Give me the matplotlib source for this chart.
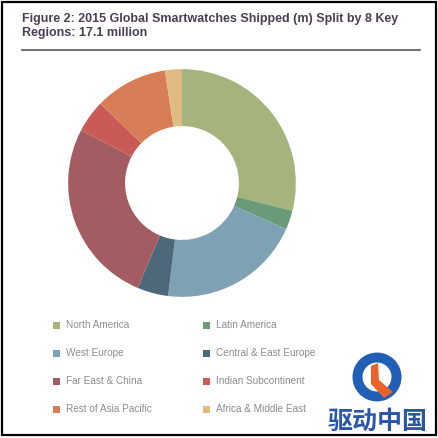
import matplotlib
matplotlib.use("Agg")
import matplotlib.pyplot as plt
from matplotlib.patches import Rectangle, Wedge, Polygon
from matplotlib.lines import Line2D

W, H = 439, 438

regions = ["North America", "Latin America", "West Europe", "Central & East Europe",
           "Far East & China", "Indian Subcontinent", "Rest of Asia Pacific", "Africa & Middle East"]
shares = [28.9, 2.7, 20.3, 4.4, 26.3, 4.6, 10.3, 2.4]
colors = ["#a5b47c", "#6a9a78", "#7ea2b4", "#4d6878", "#a35c62", "#c95a55", "#d87e57", "#e0bb82"]

title = "Figure 2: 2015 Global Smartwatches Shipped (m) Split by 8 Key\nRegions: 17.1 million"

fig = plt.figure(figsize=(W / 100, H / 100), dpi=100)
fig.patch.set_facecolor("white")

def fx(x):
    return x / W

def fy(y):
    return 1 - y / H

# outer frame
fig.add_artist(Rectangle((fx(2), fy(435)), fx(434), 433 / H, transform=fig.transFigure,
                         fill=False, edgecolor="black", linewidth=1.6))

# title
fig.text(fx(22), fy(13), title, ha="left", va="top", fontsize=9.0, fontweight="bold",
         color="#4b3f52", family="Liberation Sans", linespacing=1.2)
fig.add_artist(Line2D([fx(22), fx(420)], [fy(50), fy(50)], transform=fig.transFigure,
                      color="#5a5560", linewidth=1.2))

# donut
ax = fig.add_axes([fx(67), fy(298), 230 / W, 230 / H])
ax.pie(shares, colors=colors, startangle=90, counterclock=False,
       wedgeprops=dict(width=0.5, edgecolor="none"), radius=1)
ax.set_xlim(-1.01, 1.01)
ax.set_ylim(-1.01, 1.01)
ax.set_aspect("equal")
ax.axis("off")

# legend
rows = [325, 353, 381, 409]
cols = [(53, 66), (203, 216)]
for i, (name, c) in enumerate(zip(regions, colors)):
    r = i // 2
    col = i % 2
    sx, tx = cols[col]
    y = rows[r]
    fig.add_artist(Rectangle((fx(sx), fy(y + 3.5)), 7 / W, 7 / H, transform=fig.transFigure,
                             facecolor=c, edgecolor="none"))
    fig.text(fx(tx), fy(y), name, ha="left", va="center", fontsize=7.2,
             color="#8c8c8c", family="Liberation Sans")

# watermark logo
cx, cy = 377, 377
fig.add_artist(Wedge((fx(cx), fy(cy)), 24.5 / W, 0, 360, width=10 / W, transform=fig.transFigure,
                     facecolor="#1f5fb5", edgecolor="none"))
fig.add_artist(Polygon([(fx(371), fy(366)), (fx(378), fy(363)), (fx(379), fy(380)),
                        (fx(393), fy(392)), (fx(384), fy(398)), (fx(371), fy(384))],
                       closed=True, transform=fig.transFigure, facecolor="#e8632a", edgecolor="none"))
fig.text(fx(378), fy(422), "驱动中国", ha="center", va="center", fontsize=18, fontweight="bold",
         color="#2a56a8", family=["Noto Sans CJK SC", "DejaVu Sans"])

fig.savefig("out.png", dpi=100, facecolor="white")
